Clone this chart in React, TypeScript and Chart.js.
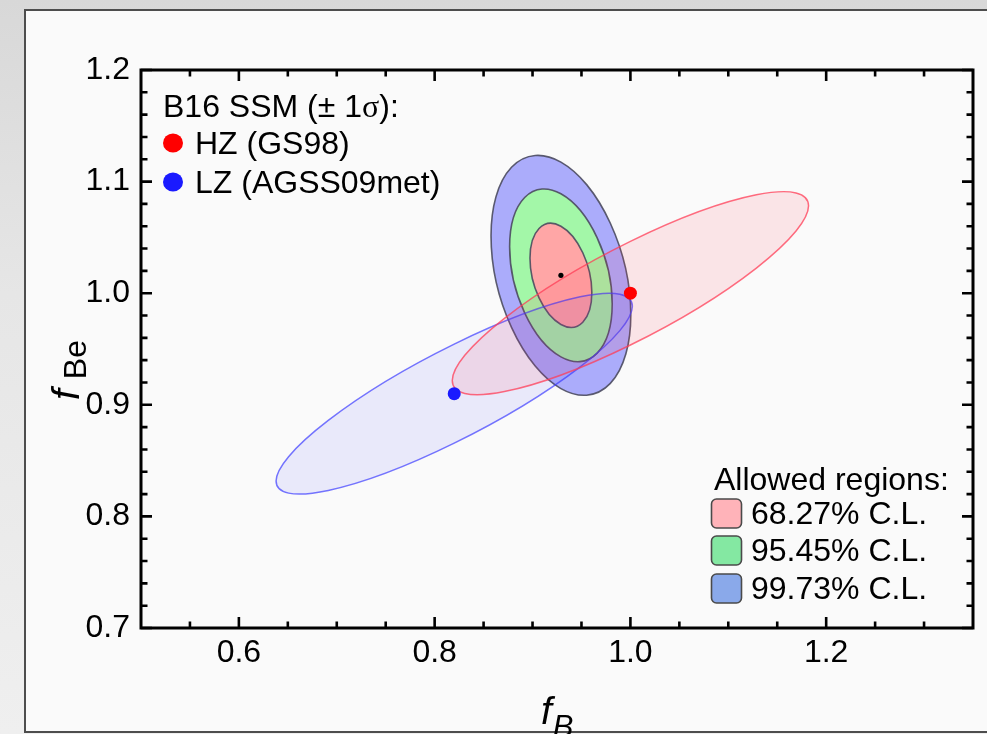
import React, { useEffect, useRef } from 'react';
import { Chart, registerables } from 'chart.js';

Chart.register(...registerables);

// ---------- axes ----------
const X_MIN = 0.5;
const X_MAX = 1.35;
const Y_MIN = 0.7;
const Y_MAX = 1.2;
const xMajorTicks = [0.6, 0.8, 1.0, 1.2];
const xMinorTicks = [0.55, 0.65, 0.7, 0.75, 0.85, 0.9, 0.95, 1.05, 1.1, 1.15, 1.25, 1.3];
const yMajorTicks = [0.7, 0.8, 0.9, 1.0, 1.1, 1.2];
const yMinorTicks = [
  0.72, 0.74, 0.76, 0.78, 0.82, 0.84, 0.86, 0.88, 0.92, 0.94, 0.96, 0.98,
  1.02, 1.04, 1.06, 1.08, 1.12, 1.14, 1.16, 1.18,
];

// ---------- B16 SSM predictions (±1σ theory ellipses) ----------
const modelLegendTitle = 'B16 SSM (± 1σ):';
const modelNames = ['HZ (GS98)', 'LZ (AGSS09met)'];
const modelFB = [1.0, 0.82];
const modelFBe = [1.0, 0.91];
const modelColors = ['#ff0000', '#1a1aff'];
const modelSigmaB = [0.182, 0.182];
const modelSigmaBe = [0.091, 0.09];
const modelRho = [0.86, 0.87];

// ---------- best fit and allowed regions ----------
const fitFB = 0.929;
const fitFBe = 1.016;
const regionLegendTitle = 'Allowed regions:';
const clLabels = ['68.27% C.L.', '95.45% C.L.', '99.73% C.L.'];
const clHalfWidthB = [0.0316, 0.0524, 0.0714];
const clHalfHeightBe = [0.0466, 0.0774, 0.1075];
const clRho = [-0.33, -0.33, -0.33];

const FONT = '"Liberation Sans", Arial, Helvetica, sans-serif';
const FS = 32;

function ellipsePath(ctx: CanvasRenderingContext2D, xs: any, ys: any, cx: number, cy: number, sx: number, sy: number, rho: number) {
  const px = xs.getPixelForValue(cx);
  const py = ys.getPixelForValue(cy);
  const ax = xs.getPixelForValue(cx + sx) - px;
  const ay = ys.getPixelForValue(cy + rho * sy) - py;
  const by = ys.getPixelForValue(cy + sy * Math.sqrt(1 - rho * rho)) - py;
  ctx.save();
  ctx.transform(ax, ay, 0, by, px, py);
  ctx.beginPath();
  ctx.arc(0, 0, 1, 0, Math.PI * 2);
  ctx.closePath();
  ctx.restore();
}

const regionPlugin = {
  id: 'regions',
  beforeDatasetsDraw(chart: any) {
    const { ctx, chartArea, scales } = chart;
    const xs = scales.x;
    const ys = scales.y;
    ctx.save();
    ctx.beginPath();
    ctx.rect(chartArea.left, chartArea.top, chartArea.right - chartArea.left, chartArea.bottom - chartArea.top);
    ctx.clip();
    const clFill = ['#ffa6a6', '#a3f7a8', '#abacfb'];
    for (let i = clLabels.length - 1; i >= 0; i--) {
      ellipsePath(ctx, xs, ys, fitFB, fitFBe, clHalfWidthB[i], clHalfHeightBe[i], clRho[i]);
      ctx.fillStyle = clFill[i];
      ctx.fill();
      ctx.lineWidth = 1.6;
      ctx.strokeStyle = 'rgba(75,75,95,0.9)';
      ctx.stroke();
    }
    const thFill = ['rgba(255,40,70,0.1)', 'rgba(60,60,255,0.085)'];
    const thStroke = ['rgba(255,60,85,0.75)', 'rgba(60,60,255,0.7)'];
    for (let i = modelNames.length - 1; i >= 0; i--) {
      ellipsePath(ctx, xs, ys, modelFB[i], modelFBe[i], modelSigmaB[i], modelSigmaBe[i], modelRho[i]);
      ctx.fillStyle = thFill[i];
      ctx.fill();
      ctx.lineWidth = 1.5;
      ctx.strokeStyle = thStroke[i];
      ctx.stroke();
    }
    ctx.restore();
  },
  afterDraw(chart: any) {
    const { ctx, chartArea, scales } = chart;
    const xs = scales.x;
    const ys = scales.y;
    const { left, right, top, bottom } = chartArea;
    ctx.save();
    // frame
    ctx.strokeStyle = '#000';
    ctx.lineWidth = 3;
    ctx.strokeRect(left, top, right - left, bottom - top);
    // ticks (inward on all sides)
    ctx.lineWidth = 2.6;
    const xt = (v: number, len: number) => {
      const x = xs.getPixelForValue(v);
      ctx.beginPath();
      ctx.moveTo(x, bottom);
      ctx.lineTo(x, bottom - len);
      ctx.moveTo(x, top);
      ctx.lineTo(x, top + len);
      ctx.stroke();
    };
    const yt = (v: number, len: number) => {
      const y = ys.getPixelForValue(v);
      ctx.beginPath();
      ctx.moveTo(left, y);
      ctx.lineTo(left + len, y);
      ctx.moveTo(right, y);
      ctx.lineTo(right - len, y);
      ctx.stroke();
    };
    xMajorTicks.forEach((v) => xt(v, 11));
    xMinorTicks.forEach((v) => xt(v, 6.5));
    yMajorTicks.forEach((v) => yt(v, 11));
    yMinorTicks.forEach((v) => yt(v, 6.5));

    // model legend (top-left)
    ctx.fillStyle = '#000';
    ctx.textBaseline = 'alphabetic';
    ctx.textAlign = 'left';
    ctx.font = `${FS}px ${FONT}`;
    const parts = modelLegendTitle.split('σ');
    ctx.fillText(parts[0], 163, 117);
    const w0 = ctx.measureText(parts[0]).width;
    ctx.font = `${FS}px "Liberation Serif", serif`;
    ctx.fillText('σ', 163 + w0, 117);
    const ws = ctx.measureText('σ').width;
    ctx.font = `${FS}px ${FONT}`;
    ctx.fillText(parts[1], 163 + w0 + ws, 117);
    const rowY = [143, 182];
    modelNames.forEach((name, i) => {
      ctx.beginPath();
      ctx.fillStyle = modelColors[i];
      ctx.ellipse(173, rowY[i], 10, 9.5, 0, 0, Math.PI * 2);
      ctx.fill();
      ctx.fillStyle = '#000';
      ctx.fillText(name, 195, rowY[i] + 11);
    });

    // region legend (bottom-right)
    ctx.fillText(regionLegendTitle, 714, 490);
    const swFill = ['#ffb3b9', '#84e8a2', '#8aa9ea'];
    const swTop = [499, 536, 574];
    clLabels.forEach((lab, i) => {
      ctx.beginPath();
      ctx.roundRect(711.5, swTop[i], 30, 29, 5);
      ctx.fillStyle = swFill[i];
      ctx.fill();
      ctx.lineWidth = 1.6;
      ctx.strokeStyle = '#4a4a4a';
      ctx.stroke();
      ctx.fillStyle = '#000';
      ctx.fillText(lab, 751, swTop[i] + 25);
    });

    // axis titles
    ctx.font = `italic 39px ${FONT}`;
    ctx.fillText('f', 541, 724);
    const fw = ctx.measureText('f').width;
    ctx.font = `italic 31px ${FONT}`;
    ctx.fillText('B', 541 + fw + 1, 737);

    ctx.translate(79, 400);
    ctx.rotate(-Math.PI / 2);
    ctx.font = `italic 39px ${FONT}`;
    ctx.fillText('f', 0, 0);
    ctx.font = `32px ${FONT}`;
    ctx.fillText('Be', fw + 10, 7);
    ctx.restore();
  },
};

export default function App() {
  const ref = useRef<HTMLCanvasElement | null>(null);
  useEffect(() => {
    if (!ref.current) return;
    const chart = new Chart(ref.current, {
      type: 'scatter',
      data: {
        datasets: [
          {
            label: modelNames[0],
            data: [{ x: modelFB[0], y: modelFBe[0] }],
            pointRadius: 6.5,
            pointBackgroundColor: modelColors[0],
            pointBorderWidth: 0,
          },
          {
            label: modelNames[1],
            data: [{ x: modelFB[1], y: modelFBe[1] }],
            pointRadius: 6.5,
            pointBackgroundColor: modelColors[1],
            pointBorderWidth: 0,
          },
          {
            label: 'best fit',
            data: [{ x: fitFB, y: fitFBe }],
            pointRadius: 2.6,
            pointBackgroundColor: '#000',
            pointBorderWidth: 0,
          },
        ],
      },
      options: {
        animation: false,
        responsive: false,
        maintainAspectRatio: false,
        devicePixelRatio: 1,
        layout: { padding: { left: 0, top: 70, right: 14, bottom: 0 } },
        plugins: { legend: { display: false }, tooltip: { enabled: false } },
        scales: {
          x: {
            type: 'linear',
            position: 'bottom',
            min: X_MIN,
            max: X_MAX,
            grid: { display: false, drawTicks: false },
            border: { display: false },
            afterBuildTicks: (s: any) => {
              s.ticks = xMajorTicks.map((v) => ({ value: v }));
            },
            afterFit: (s: any) => {
              s.height = 106;
            },
            ticks: {
              autoSkip: false,
              maxRotation: 0,
              padding: 6,
              color: '#000',
              font: { family: FONT, size: FS },
              callback: (v: any) => Number(v).toFixed(1),
            },
          },
          y: {
            type: 'linear',
            min: Y_MIN,
            max: Y_MAX,
            grid: { display: false, drawTicks: false },
            border: { display: false },
            afterBuildTicks: (s: any) => {
              s.ticks = yMajorTicks.map((v) => ({ value: v }));
            },
            afterFit: (s: any) => {
              s.width = 141;
            },
            ticks: {
              autoSkip: false,
              padding: 11,
              color: '#000',
              font: { family: FONT, size: FS },
              callback: (v: any) => Number(v).toFixed(1),
            },
          },
        },
      },
      plugins: [regionPlugin],
    });
    return () => chart.destroy();
  }, []);

  return (
    <div style={{ position: 'fixed', left: 0, top: 0, width: 987, height: 734, overflow: 'hidden', background: 'linear-gradient(#d8d8d8, #e6e6e6 40%, #efefef)' }}>
      <div style={{ position: 'absolute', left: 24, top: 9, width: 1000, height: 720, border: '2px solid #4d4d4d', background: '#fafafa' }} />
      <canvas ref={ref} width={987} height={734} style={{ position: 'absolute', left: 0, top: 0, width: 987, height: 734 }} />
    </div>
  );
}
